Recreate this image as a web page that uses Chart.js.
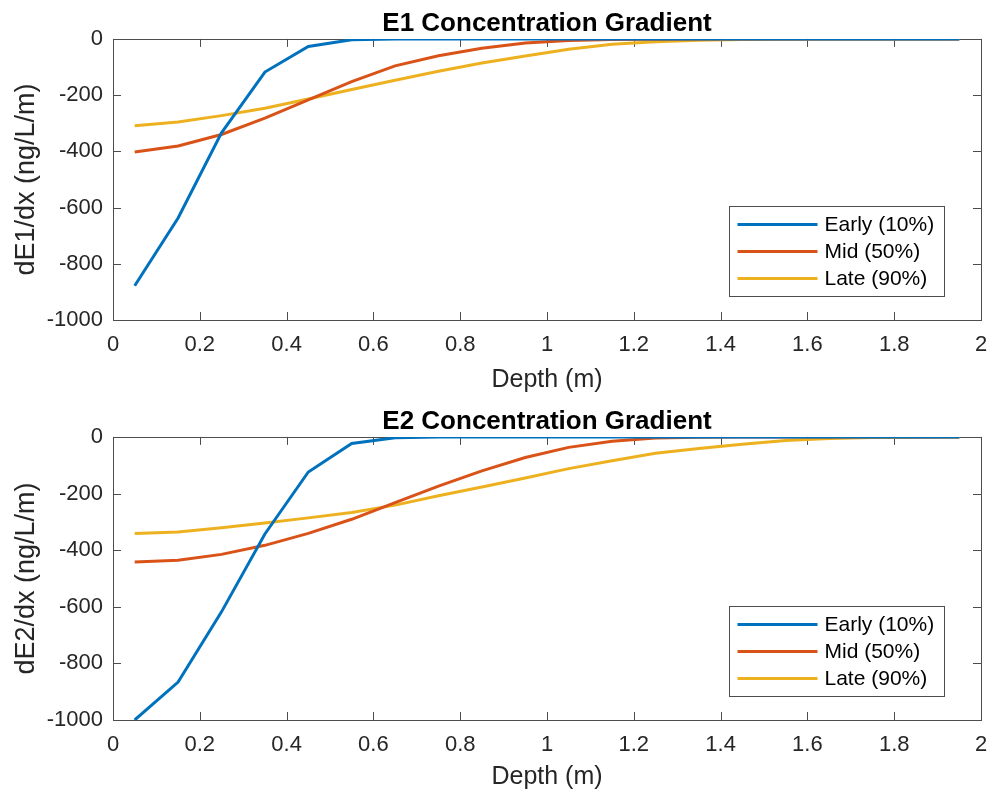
<!DOCTYPE html>
<html>
<head>
<meta charset="utf-8">
<script src="https://cdn.jsdelivr.net/npm/chart.js@4.4.1/dist/chart.umd.min.js"></script>
<style>
  html, body { margin: 0; padding: 0; background: #fff; }
  .box { width: 989px; height: 397px; position: relative; }
</style>
</head>
<body>
<div class="box"><canvas id="chartE1" width="989" height="397"></canvas></div>
<div class="box"><canvas id="chartE2" width="989" height="397"></canvas></div>
<script>
// depth nodes (m)
var depth = [0.05, 0.15, 0.25, 0.35, 0.45, 0.55, 0.65, 0.75, 0.85, 0.95,
             1.05, 1.15, 1.25, 1.35, 1.45, 1.55, 1.65, 1.75, 1.85, 1.95];

var seriesNames = ['Early (10%)', 'Mid (50%)', 'Late (90%)'];
var seriesColors = ['#0072BD', '#D95319', '#EDB120'];

// E1 gradient (ng/L/m)
var e1Early = [-878, -637, -334, -118, -27, -3, 0, 0, 0, 0, 0, 0, 0, 0, 0, 0, 0, 0, 0, 0];
var e1Mid   = [-402, -381, -340, -282, -217, -152, -96, -60, -33, -15, -6, -2, -1, 0, 0, 0, 0, 0, 0, 0];
var e1Late  = [-309, -296, -273, -247, -214, -180, -147, -115, -86, -61, -37, -19, -10, -5, -2, -1, 0, 0, 0, 0];

// E2 gradient (ng/L/m)
var e2Early = [-1000, -866, -618, -343, -124, -23, -3, 0, 0, 0, 0, 0, 0, 0, 0, 0, 0, 0, 0, 0];
var e2Mid   = [-442, -436, -415, -383, -341, -291, -232, -174, -120, -73, -37, -15, -4, -1.5, -0.5, 0, 0, 0, 0, 0];
var e2Late  = [-341, -336, -321, -304, -286, -267, -241, -208, -177, -145, -112, -84, -58, -41, -26, -13, -6, -2, -1, 0];

var FONT = "'Liberation Sans', Arial, Helvetica, sans-serif";
var AXIS_COLOR = '#4d4d4d';
var TEXT_COLOR = '#262626';

function points(values) {
  return values.map(function (v, i) { return { x: depth[i], y: v }; });
}

// MATLAB style box with inward ticks on all four sides
var framePlugin = {
  id: 'frame',
  beforeDatasetsDraw: function (chart) {
    var ctx = chart.ctx, a = chart.chartArea;
    var xs = chart.scales.x, ys = chart.scales.y;
    var len = 8;
    ctx.save();
    ctx.strokeStyle = AXIS_COLOR;
    ctx.lineWidth = 1;
    ctx.beginPath();
    xs.ticks.forEach(function (t) {
      var px = Math.round(xs.getPixelForValue(t.value)) + 0.5;
      ctx.moveTo(px, a.bottom); ctx.lineTo(px, a.bottom - len);
      ctx.moveTo(px, a.top); ctx.lineTo(px, a.top + len);
    });
    ys.ticks.forEach(function (t) {
      var py = Math.round(ys.getPixelForValue(t.value)) + 0.5;
      ctx.moveTo(a.left, py); ctx.lineTo(a.left + len, py);
      ctx.moveTo(a.right, py); ctx.lineTo(a.right - len, py);
    });
    ctx.stroke();
    ctx.strokeRect(Math.round(a.left) + 0.5, Math.round(a.top) + 0.5,
                   Math.round(a.right - a.left), Math.round(a.bottom - a.top));
    ctx.restore();
  }
};

// legend box drawn inside the plot, lower right
var boxLegendPlugin = {
  id: 'boxLegend',
  afterDatasetsDraw: function (chart) {
    var ctx = chart.ctx, a = chart.chartArea;
    var w = 215, h = 90;
    var left = Math.round(a.right - 37 - w) + 0.5;
    var top = Math.round(a.bottom - 24 - h) + 0.5;
    ctx.save();
    ctx.fillStyle = '#fff';
    ctx.fillRect(left, top, w, h);
    ctx.strokeStyle = AXIS_COLOR;
    ctx.lineWidth = 1;
    ctx.strokeRect(left, top, w, h);
    ctx.font = '21px ' + FONT;
    ctx.textBaseline = 'middle';
    ctx.fillStyle = '#000';
    chart.data.datasets.forEach(function (ds, i) {
      var y = top + 18 + i * 27;
      ctx.strokeStyle = ds.borderColor;
      ctx.lineWidth = 3;
      ctx.beginPath();
      ctx.moveTo(left + 8, y);
      ctx.lineTo(left + 88, y);
      ctx.stroke();
      ctx.fillText(ds.label, left + 95, y + 1);
    });
    ctx.restore();
  }
};

function makeChart(canvasId, title, yLabel, series, layout) {
  var el = document.getElementById(canvasId);
  new Chart(el, {
    type: 'line',
    data: {
      datasets: series.map(function (values, i) {
        return {
          label: seriesNames[i],
          data: points(values),
          borderColor: seriesColors[i],
          backgroundColor: seriesColors[i],
          borderWidth: 3,
          pointRadius: 0,
          tension: 0,
          fill: false,
        };
      }),
    },
    options: {
      responsive: false,
      animation: false,
      devicePixelRatio: 1,
      layout: { padding: { left: 0, right: 0, top: 0, bottom: 0 } },
      plugins: {
        legend: { display: false },
        tooltip: { enabled: false },
        title: {
          display: true,
          fullSize: false,
          text: title,
          color: '#000',
          font: { family: FONT, size: 26, weight: 'bold', lineHeight: 1.15 },
          padding: { top: layout.titleTop, bottom: layout.titleBottom },
        },
      },
      scales: {
        x: {
          type: 'linear',
          min: 0,
          max: 2,
          grid: { display: false, drawTicks: false },
          border: { display: false },
          afterFit: function (s) {
            s.height = layout.xHeight;
            s.paddingLeft = 0;
            s.paddingRight = 8;
          },
          ticks: {
            stepSize: 0.2,
            padding: 12,
            color: TEXT_COLOR,
            font: { family: FONT, size: 22 },
            maxRotation: 0,
            callback: function (v) { return String(+v.toFixed(1)); },
          },
          title: {
            display: true,
            text: 'Depth (m)',
            color: TEXT_COLOR,
            font: { family: FONT, size: 25, lineHeight: 1.2 },
            padding: { top: 0, bottom: layout.xTitleBottom },
          },
        },
        y: {
          min: -1000,
          max: 0,
          grid: { display: false, drawTicks: false },
          border: { display: false },
          afterFit: function (s) { s.width = 113; },
          ticks: {
            stepSize: 200,
            padding: 10,
            color: TEXT_COLOR,
            font: { family: FONT, size: 22 },
            callback: function (v) { return String(v); },
          },
          title: {
            display: true,
            text: yLabel,
            color: TEXT_COLOR,
            font: { family: FONT, size: 27, lineHeight: 1.2 },
            padding: { top: 10, bottom: 0 },
          },
        },
      },
    },
    plugins: [framePlugin, boxLegendPlugin],
  });
}

makeChart('chartE1', 'E1 Concentration Gradient', 'dE1/dx (ng/L/m)',
  [e1Early, e1Mid, e1Late],
  { titleTop: 9, titleBottom: 0, xHeight: 77, xTitleBottom: 2 });

makeChart('chartE2', 'E2 Concentration Gradient', 'dE2/dx (ng/L/m)',
  [e2Early, e2Mid, e2Late],
  { titleTop: 10, titleBottom: 0, xHeight: 74, xTitleBottom: 2 });
</script>
</body>
</html>
